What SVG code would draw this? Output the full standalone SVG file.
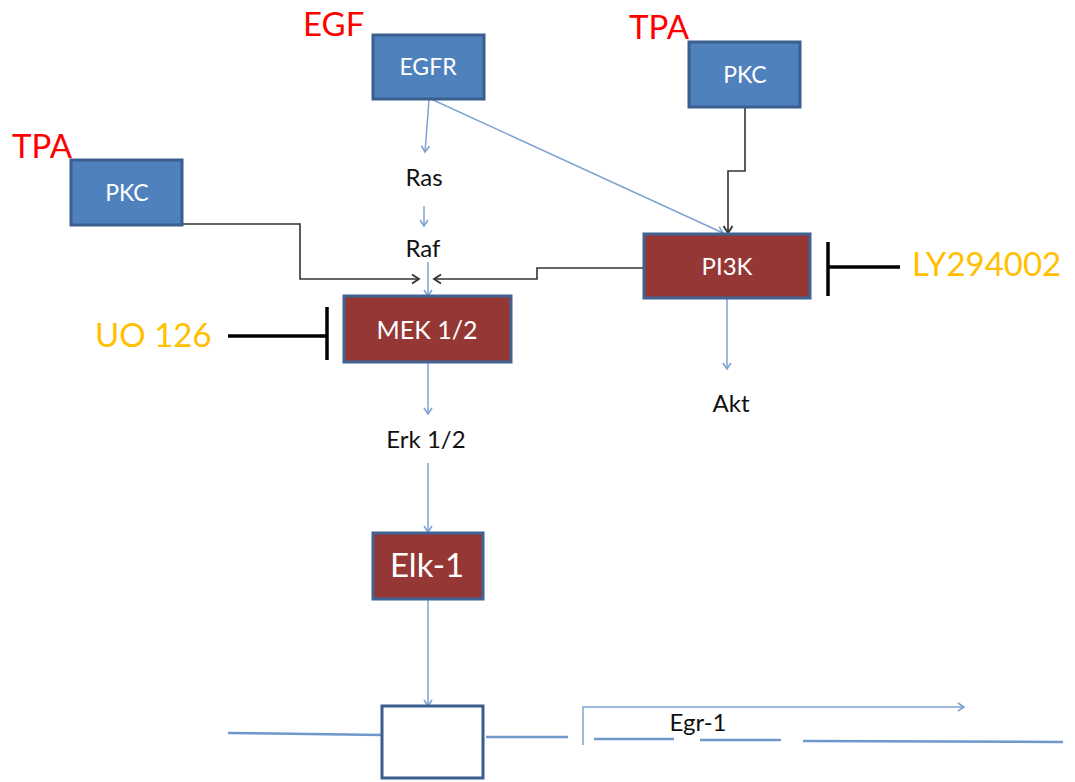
<svg xmlns="http://www.w3.org/2000/svg" width="1075" height="782" viewBox="0 0 1075 782">
<defs>
<style>
.blue{fill:#4F81BD;stroke:#3A5F8E;stroke-width:3}
.red{fill:#953735;stroke:#3F6494;stroke-width:3}
.wt{font-family:Lato,"Liberation Sans",sans-serif;fill:#fff;text-anchor:middle}
.bt{font-family:Lato,"Liberation Sans",sans-serif;fill:#111;text-anchor:middle;font-size:24px}
.rt{font-family:Lato,"Liberation Sans",sans-serif;fill:#FF0000;font-size:33px}
.yt{font-family:Lato,"Liberation Sans",sans-serif;fill:#FFC000;font-size:33px}
.lb{fill:none;stroke:#7FA2D3;stroke-width:1.5}
.dk{fill:none;stroke:#333;stroke-width:1.6}
.inh{fill:none;stroke:#000;stroke-width:3.5}
.dna{fill:none;stroke:#7198CC;stroke-width:2.5}
</style>
<marker id="ab" markerWidth="12" markerHeight="12" refX="10" refY="6" orient="auto" markerUnits="userSpaceOnUse">
<path d="M4,2 L10,6 L4,10" fill="none" stroke="#7FA2D3" stroke-width="1.6"/>
</marker>
<marker id="ak" markerWidth="14" markerHeight="14" refX="11" refY="7" orient="auto" markerUnits="userSpaceOnUse">
<path d="M4,2.5 L11,7 L4,11.5" fill="none" stroke="#333" stroke-width="1.8"/>
</marker>
</defs>

<g id="connectors">
<path class="lb" d="M429,100 L425,152" marker-end="url(#ab)"/>
<path class="lb" d="M424,206 L424,226" marker-end="url(#ab)"/>
<path class="lb" d="M428,262 L428,296" marker-end="url(#ab)"/>
<path class="lb" d="M431,99 L723,233" marker-end="url(#ab)"/>
<path class="dk" d="M182,224 L300,224 L300,279 L419,279" marker-end="url(#ak)"/>
<path class="dk" d="M644,268 L537,268 L537,279 L434,279" marker-end="url(#ak)"/>
<path class="dk" d="M745,108 L745,171 L728,171 L728,233" marker-end="url(#ak)"/>
<path class="lb" d="M727,298 L727,369" marker-end="url(#ab)"/>
<path class="lb" d="M428,362 L428,414" marker-end="url(#ab)"/>
<path class="lb" d="M428,463 L428,532" marker-end="url(#ab)"/>
<path class="lb" d="M428,599 L428,706" marker-end="url(#ab)"/>
<path class="lb" d="M583,745 L583,707 L964,707" marker-end="url(#ab)"/>
<path class="inh" d="M228,336 L327,336 M327,307 L327,360"/>
<path class="inh" d="M900,267 L828,267 M828,242 L828,296"/>
<path class="dna" d="M228,733 L382,735"/>
<path class="dna" d="M486,737 L568,737 M594,739 L674,739 M700,740 L781,740 M803,741 L1063,742"/>
</g>

<g id="egf"><text class="rt" x="303" y="36">EGF</text></g>
<g id="egfr"><rect class="blue" x="373" y="35" width="111" height="64"/><text class="wt" x="428" y="75" font-size="23">EGFR</text></g>
<g id="tpa1"><text class="rt" x="12" y="158">TPA</text></g>
<g id="pkc1"><rect class="blue" x="71" y="160" width="111" height="65"/><text class="wt" x="127" y="201" font-size="23">PKC</text></g>
<g id="tpa2"><text class="rt" x="629" y="39">TPA</text></g>
<g id="pkc2"><rect class="blue" x="689" y="42" width="111" height="65"/><text class="wt" x="745" y="83" font-size="23">PKC</text></g>
<g id="ras"><text class="bt" x="424" y="186">Ras</text></g>
<g id="raf"><text class="bt" x="423" y="257">Raf</text></g>
<g id="pi3k"><rect class="red" x="644" y="234" width="166" height="64"/><text class="wt" x="727" y="275" font-size="24">PI3K</text></g>
<g id="ly"><text class="yt" x="912" y="276">LY294002</text></g>
<g id="mek"><rect class="red" x="344" y="296" width="167" height="66"/><text class="wt" x="427" y="339" font-size="25">MEK 1/2</text></g>
<g id="uo"><text class="yt" x="95" y="347">UO 126</text></g>
<g id="akt"><text class="bt" x="731" y="412">Akt</text></g>
<g id="erk"><text class="bt" x="426" y="448">Erk 1/2</text></g>
<g id="elk"><rect class="red" x="373" y="533" width="110" height="66"/><text class="wt" x="427" y="577" font-size="33">Elk-1</text></g>
<g id="promoter"><rect x="382" y="706" width="101" height="72" fill="#fff" stroke="#3A5F8E" stroke-width="3"/></g>
<g id="egr1"><text class="bt" x="698" y="731">Egr-1</text></g>
</svg>
